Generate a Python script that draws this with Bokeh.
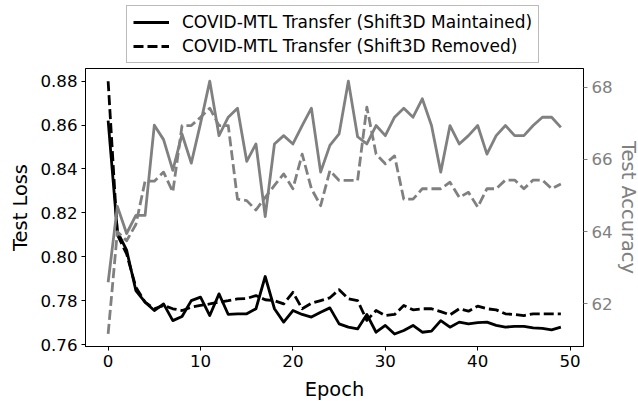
from bokeh.plotting import figure
from bokeh.layouts import column
from bokeh.models import Range1d, LinearAxis, FixedTicker, Legend, LegendItem, PrintfTickFormatter
from bokeh.embed import file_html
from bokeh.resources import INLINE

epochs = list(range(50))

loss_maintained = [0.862, 0.8115, 0.803, 0.7846, 0.7793, 0.7755, 0.7785, 0.7709, 0.7728, 0.7800,
                   0.7816, 0.7732, 0.7831, 0.7737, 0.7740, 0.7740, 0.7763, 0.7910, 0.7763, 0.7702,
                   0.7755, 0.7737, 0.7725, 0.7747, 0.7767, 0.7694, 0.7679, 0.7671, 0.7737, 0.7656,
                   0.7687, 0.7648, 0.7664, 0.7687, 0.7656, 0.7661, 0.7709, 0.7679, 0.7702, 0.7694,
                   0.7700, 0.7702, 0.7687, 0.7679, 0.7683, 0.7683, 0.7676, 0.7674, 0.7667, 0.7679]

loss_removed = [0.880, 0.8100, 0.8013, 0.7861, 0.7793, 0.7763, 0.7778, 0.7763, 0.7755, 0.7770,
                0.7778, 0.7785, 0.7793, 0.7800, 0.7808, 0.7810, 0.7823, 0.7804, 0.7800, 0.7785,
                0.7838, 0.7763, 0.7788, 0.7800, 0.7813, 0.7850, 0.7808, 0.7800, 0.7710, 0.7755,
                0.7732, 0.7737, 0.7778, 0.7758, 0.7763, 0.7763, 0.7750, 0.7735, 0.7763, 0.7752,
                0.7775, 0.7763, 0.7758, 0.7740, 0.7737, 0.7732, 0.7740, 0.7740, 0.7740, 0.7740]

acc_maintained = [62.6, 64.7, 63.95, 64.45, 64.45, 66.95, 66.55, 65.7, 66.7, 65.9,
                  67.0, 68.17, 66.66, 67.17, 67.42, 65.95, 66.43, 64.42, 66.43, 66.66,
                  66.43, 66.94, 67.42, 65.65, 66.39, 66.71, 68.17, 66.63, 66.43, 66.94,
                  66.66, 67.17, 67.42, 67.17, 67.68, 66.94, 65.65, 66.94, 66.43, 66.66,
                  66.94, 66.15, 66.66, 66.94, 66.66, 66.66, 66.94, 67.17, 67.17, 66.89]

acc_removed = [61.17, 64.0, 63.75, 64.2, 65.4, 65.4, 65.65, 65.1, 66.94, 66.94,
               67.17, 67.42, 66.94, 66.94, 64.9, 64.86, 64.6, 64.95, 65.28, 65.6,
               65.19, 66.15, 65.19, 64.72, 65.69, 65.42, 65.42, 65.42, 67.45, 66.15,
               65.88, 66.1, 64.9, 64.9, 65.19, 65.19, 65.19, 65.37, 64.95, 65.09,
               64.68, 65.19, 65.19, 65.43, 65.43, 65.19, 65.43, 65.43, 65.19, 65.32]

epoch_ticks = [0, 10, 20, 30, 40, 50]
loss_ticks = [0.76, 0.78, 0.80, 0.82, 0.84, 0.86, 0.88]
acc_ticks = [62, 64, 66, 68]

label_maintained = "COVID-MTL Transfer (Shift3D Maintained)"
label_removed = "COVID-MTL Transfer (Shift3D Removed)"

FONT = "DejaVu Sans"
TICK_SIZE = "16.67px"
LEGEND_SIZE = "17px"
LABEL_SIZE = "19.4px"
GRAY = "#808080"
DASH = "10 4"
W = 642

# ---- main chart ----
p = figure(width=W, height=339, output_backend="svg", toolbar_location=None,
           x_range=Range1d(-2.45, 51.45), y_range=Range1d(0.7591, 0.8858),
           min_border_left=85, min_border_right=58, min_border_top=4, min_border_bottom=57)
p.extra_y_ranges = {"acc": Range1d(60.82, 68.52)}
p.grid.visible = False
p.outline_line_color = "black"
p.outline_line_width = 1
p.background_fill_color = "white"
p.border_fill_color = "white"

p.line(epochs, loss_maintained, line_color="black", line_width=2.8, line_join="round")
p.line(epochs, loss_removed, line_color="black", line_width=2.8, line_dash=DASH, line_join="round")
p.line(epochs, acc_maintained, line_color=GRAY, line_width=2.8, line_join="round", y_range_name="acc")
p.line(epochs, acc_removed, line_color=GRAY, line_width=2.8, line_dash=DASH, line_join="round", y_range_name="acc")

def style_axis(ax, color, ticks):
    ax.ticker = FixedTicker(ticks=ticks)
    ax.major_tick_out = 4
    ax.major_tick_in = 0
    ax.minor_tick_out = 0
    ax.minor_tick_in = 0
    ax.major_tick_line_color = color
    ax.axis_line_color = "black"
    ax.major_label_text_font = FONT
    ax.major_label_text_font_size = TICK_SIZE
    ax.major_label_text_color = color
    ax.major_label_standoff = 4
    ax.axis_label_text_font = FONT
    ax.axis_label_text_font_size = LABEL_SIZE
    ax.axis_label_text_font_style = "normal"
    ax.axis_label_text_color = color

xa = p.xaxis[0]
style_axis(xa, "black", epoch_ticks)
xa.axis_label = "Epoch"
xa.axis_label_standoff = 8

ya = p.yaxis[0]
style_axis(ya, "black", loss_ticks)
ya.formatter = PrintfTickFormatter(format="%.2f")
ya.axis_label = "Test Loss"
ya.axis_label_standoff = 5

ra = LinearAxis(y_range_name="acc")
style_axis(ra, GRAY, acc_ticks)
ra.axis_label = "Test Accuracy"
ra.axis_label_standoff = 1
p.add_layout(ra, "right")

# ---- legend strip above the chart ----
lf = figure(width=W, height=64, output_backend="svg", toolbar_location=None,
            x_axis_type=None, y_axis_type=None, min_border=0,
            x_range=Range1d(0, 1), y_range=Range1d(0, 1))
lf.grid.visible = False
lf.outline_line_color = None
lf.background_fill_color = "white"
lf.border_fill_color = "white"
k1 = lf.line([0, 1], [-5, -5], line_color="black", line_width=2.8)
k2 = lf.line([0, 1], [-5, -5], line_color="black", line_width=2.8, line_dash=DASH)

legend = Legend(items=[LegendItem(label=label_maintained, renderers=[k1]),
                       LegendItem(label=label_removed, renderers=[k2])],
                location=(41, 1), orientation="vertical",
                label_text_font=FONT, label_text_font_size=LEGEND_SIZE, label_text_color="black",
                glyph_width=36, glyph_height=20, label_height=20, label_standoff=13,
                padding=6, spacing=4, margin=0,
                border_line_color="#bbbbbb", border_line_width=1, border_line_alpha=1.0,
                background_fill_color="white", background_fill_alpha=0.8)
lf.add_layout(legend, "center")

layout = column(lf, p, spacing=0)

html = file_html(layout, INLINE)
html = html.replace("<head>", "<head><style>html,body{overflow:hidden;}</style>", 1)
open("out.html", "w").write(html)
